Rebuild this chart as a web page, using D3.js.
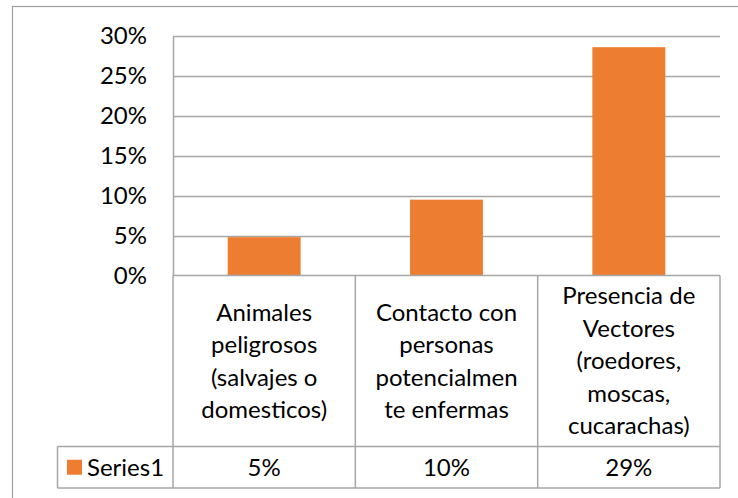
<!DOCTYPE html>
<html>
<head>
<meta charset="utf-8">
<script src="https://cdn.jsdelivr.net/npm/d3@7"></script>
<style>
  html, body { margin: 0; padding: 0; background: #fff; }
  svg { display: block; font-family: Lato, "Open Sans", sans-serif; }
</style>
</head>
<body>
<svg id="chart" width="738" height="498"></svg>
<script>
// Risk factors (share of responses)
const categories = [
  "Animales\npeligrosos\n(salvajes o\ndomesticos)",
  "Contacto con\npersonas\npotencialmen\nte enfermas",
  "Presencia de\nVectores\n(roedores,\nmoscas,\ncucarachas)"
];
const series1 = [0.048, 0.095, 0.286];
const seriesName = "Series1";
const yTicks = [0, 0.05, 0.10, 0.15, 0.20, 0.25, 0.30];

const svg = d3.select("#chart");
const W = 738, H = 498;

const plot = { left: 173, right: 720, top: 36, bottom: 275.5 };
const table = { legendLeft: 57.5, catBottom: 446.5, bottom: 488 };

const barColor = "#ED7D31";
const lineColor = "#a6a6a6";
const fontSize = 24;
const lineH = 32.5;

// Chart frame
svg.append("rect")
  .attr("x", 12.5).attr("y", 6.5)
  .attr("width", W + 10).attr("height", H + 10)
  .attr("fill", "#fff").attr("stroke", "#a0a0a0").attr("stroke-width", 1.2);

const x = d3.scaleBand()
  .domain(d3.range(categories.length))
  .range([plot.left, plot.right])
  .paddingInner(0.6)
  .paddingOuter(0.3);

const col = d3.scaleBand()
  .domain(d3.range(categories.length))
  .range([plot.left, plot.right])
  .padding(0);

const y = d3.scaleLinear().domain([0, 0.30]).range([plot.bottom, plot.top]);
const fmt = d3.format(".0%");

// Gridlines
svg.append("g")
  .selectAll("line")
  .data(yTicks.filter(d => d > 0))
  .join("line")
  .attr("x1", plot.left).attr("x2", plot.right)
  .attr("y1", d => Math.round(y(d)) + 0.5).attr("y2", d => Math.round(y(d)) + 0.5)
  .attr("stroke", lineColor).attr("stroke-width", 1.5);

// Value axis
const yAxis = d3.axisLeft(y).tickValues(yTicks).tickFormat(fmt).tickSize(0).tickPadding(26);
const gy = svg.append("g").attr("transform", `translate(${plot.left},0)`).call(yAxis);
gy.select(".domain").attr("stroke", lineColor).attr("stroke-width", 1.5);
gy.selectAll("text")
  .attr("font-family", "Lato, sans-serif")
  .attr("font-size", fontSize)
  .attr("fill", "#000");

// Bars
svg.append("g")
  .selectAll("rect")
  .data(series1)
  .join("rect")
  .attr("x", (d, i) => x(i))
  .attr("width", x.bandwidth())
  .attr("y", d => y(d))
  .attr("height", d => y(0) - y(d))
  .attr("fill", barColor);

// Data table grid
const grid = svg.append("g").attr("stroke", lineColor).attr("stroke-width", 1.5).attr("fill", "none");
grid.append("line").attr("x1", plot.left).attr("x2", plot.right).attr("y1", plot.bottom).attr("y2", plot.bottom);
grid.append("line").attr("x1", table.legendLeft).attr("x2", plot.right).attr("y1", table.catBottom).attr("y2", table.catBottom);
grid.append("line").attr("x1", table.legendLeft).attr("x2", plot.right).attr("y1", table.bottom).attr("y2", table.bottom);
grid.append("line").attr("x1", table.legendLeft).attr("x2", table.legendLeft).attr("y1", table.catBottom).attr("y2", table.bottom);
grid.selectAll("line.col")
  .data(d3.range(categories.length + 1))
  .join("line")
  .attr("class", "col")
  .attr("x1", i => i < categories.length ? col(i) : plot.right)
  .attr("x2", i => i < categories.length ? col(i) : plot.right)
  .attr("y1", plot.bottom).attr("y2", table.bottom);

// Category labels
const catMid = (plot.bottom + table.catBottom) / 2;
svg.append("g")
  .selectAll("text")
  .data(categories)
  .join("text")
  .attr("text-anchor", "middle")
  .attr("font-size", fontSize)
  .attr("fill", "#000")
  .each(function(d, i) {
    const lines = d.split("\n");
    const y0 = catMid - (lines.length - 1) * lineH / 2;
    d3.select(this).selectAll("tspan")
      .data(lines)
      .join("tspan")
      .attr("x", col(i) + col.bandwidth() / 2)
      .attr("y", (l, j) => y0 + j * lineH)
      .attr("dy", "0.35em")
      .text(l => l);
  });

// Series row: legend key + values
const rowMid = (table.catBottom + table.bottom) / 2;
svg.append("rect")
  .attr("x", 67).attr("y", rowMid - 7.5)
  .attr("width", 15).attr("height", 15)
  .attr("fill", barColor);
svg.append("text")
  .attr("x", 87).attr("y", rowMid).attr("dy", "0.35em")
  .attr("font-size", fontSize).attr("fill", "#000")
  .text(seriesName);
svg.append("g")
  .selectAll("text")
  .data(series1)
  .join("text")
  .attr("x", (d, i) => col(i) + col.bandwidth() / 2)
  .attr("y", rowMid).attr("dy", "0.35em")
  .attr("text-anchor", "middle")
  .attr("font-size", fontSize).attr("fill", "#000")
  .text(d => fmt(d));
</script>
</body>
</html>
